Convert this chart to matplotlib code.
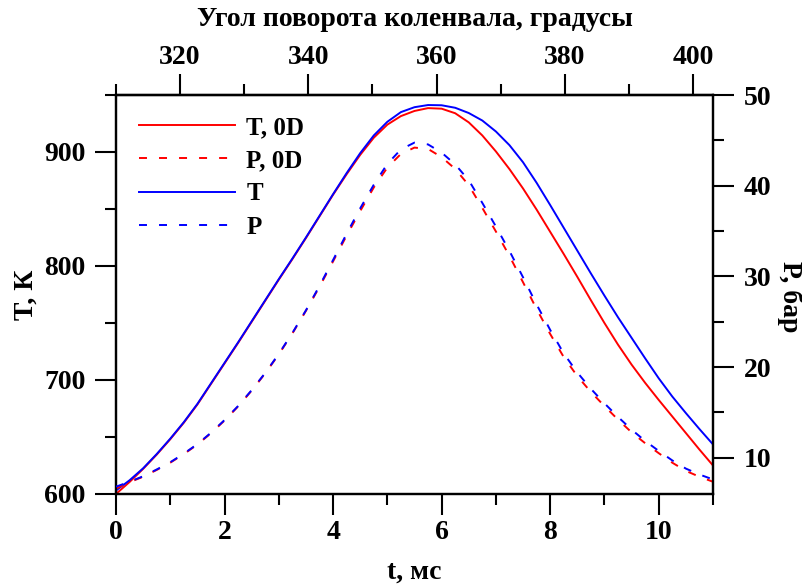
import matplotlib
matplotlib.use("Agg")
import matplotlib.pyplot as plt
from matplotlib.ticker import MultipleLocator, FixedLocator

plt.rcParams['font.family'] = ['Liberation Serif', 'DejaVu Serif']
plt.rcParams['font.weight'] = 'bold'
plt.rcParams['font.size'] = 20

# time, ms
t = [0, 0.25, 0.5, 0.75, 1, 1.25, 1.5, 1.75, 2, 2.25, 2.5, 2.75, 3, 3.25,
     3.5, 3.75, 4, 4.25, 4.5, 4.75, 5, 5.25, 5.5, 5.75, 6, 6.25, 6.5, 6.75,
     7, 7.25, 7.5, 7.75, 8, 8.25, 8.5, 8.75, 9, 9.25, 9.5, 9.75, 10, 10.25,
     10.5, 10.75, 11]

# temperature, K
T_0D = [600, 610.5, 622, 634.5, 648, 662.5, 678.5, 696.5, 714.5, 732.5, 751,
        769.5, 788, 806, 824.5, 843.5, 862.5, 880.5, 897.5, 912.5, 924, 931.5,
        936, 938.5, 938, 934, 926, 914.5, 900.5, 885, 868, 849.5, 830, 810.5,
        790.5, 770, 750, 731, 713.5, 697.5, 682.5, 668, 653.5, 639, 625]
T_3D = [603, 612, 622.5, 635, 648.5, 663, 679, 697, 715, 733, 751.5, 770,
        788.5, 806.5, 825, 844, 863, 881.5, 899, 914.5, 926.5, 935, 939.3,
        941.2, 941, 938.8, 934.2, 927.6, 918, 906, 891, 873, 853.5, 833.5,
        813.5, 793.5, 774, 755, 737, 719, 701.5, 685.5, 671, 657, 643.5]

# pressure, bar
P_0D = [6.6, 7.3, 7.9, 8.65, 9.45, 10.4, 11.45, 12.7, 14.1, 15.65, 17.4, 19.3,
        21.4, 23.7, 26.2, 28.85, 31.65, 34.5, 37.2, 39.8, 42.0, 43.5, 44.2,
        44.05, 43.15, 41.85, 40.05, 37.55, 34.95, 32.25, 29.35, 26.4, 23.65,
        21.1, 19.0, 17.25, 15.7, 14.2, 12.8, 11.6, 10.5, 9.45, 8.55, 7.9, 7.35]
P_3D = [6.8, 7.35, 7.95, 8.7, 9.5, 10.45, 11.5, 12.75, 14.15, 15.7, 17.45,
        19.35, 21.45, 23.75, 26.25, 28.95, 31.8, 34.7, 37.5, 40.1, 42.4, 44.0,
        44.75, 44.55, 43.65, 42.35, 40.6, 38.1, 35.5, 32.8, 29.9, 26.9, 24.1,
        21.5, 19.4, 17.6, 16.0, 14.5, 13.1, 11.85, 10.75, 9.7, 8.8, 8.15, 7.6]

labels = ['T, 0D', 'P, 0D', 'T', 'P']

# crank angle: degrees at t = 0 and degrees per ms
ANGLE0 = 310.0
DEG_PER_MS = 8.4636
angle_major = [320, 340, 360, 380, 400]
angle_minor = [310, 330, 350, 370, 390]

fig = plt.figure(figsize=(8.02, 5.85), dpi=100)
ax = fig.add_axes([0.1446, 0.1556, 0.7444, 0.682])
ax2 = ax.twinx()

lw = 1.4
dash = (0, (4.1, 6.2))
l1, = ax.plot(t, T_0D, color='#ff0000', lw=lw, zorder=2)
l2, = ax2.plot(t, P_0D, color='#ff0000', lw=lw, ls=dash, zorder=2)
l3, = ax.plot(t, T_3D, color='#0000ff', lw=lw, zorder=3)
l4, = ax2.plot(t, P_3D, color='#0000ff', lw=lw, ls=dash, zorder=3)

ax.set_xlim(0, 11)
ax.set_ylim(600, 950)
ax2.set_ylim(6, 50)

ax.xaxis.set_major_locator(MultipleLocator(2))
ax.xaxis.set_minor_locator(MultipleLocator(1))
ax.yaxis.set_major_locator(MultipleLocator(100))
ax.yaxis.set_minor_locator(MultipleLocator(50))
ax2.yaxis.set_major_locator(MultipleLocator(10))
ax2.yaxis.set_minor_locator(MultipleLocator(5))

top = ax.secondary_xaxis('top', functions=(lambda x: ANGLE0 + DEG_PER_MS * x,
                                            lambda a: (a - ANGLE0) / DEG_PER_MS))
top.xaxis.set_major_locator(FixedLocator(angle_major))
top.xaxis.set_minor_locator(FixedLocator(angle_minor))

for a in (ax, ax2, top):
    a.tick_params(which='major', direction='out', length=15, width=1.5,
                  labelsize=20)
    a.tick_params(which='minor', direction='out', length=8, width=1.5)
    for s in a.spines.values():
        s.set_linewidth(1.6)
ax.tick_params(axis='x', pad=4)
ax.tick_params(axis='y', pad=7)
ax2.tick_params(axis='y', pad=7)
top.tick_params(axis='x', pad=3)

ax.set_xlabel('t, мс', fontsize=20, fontweight='bold', va='center')
ax.xaxis.set_label_coords(0.5, -0.1955)
ax.set_ylabel('T, К', fontsize=20, fontweight='bold', va='center',
              ha='center', rotation=90)
ax.yaxis.set_label_coords(-0.151, 0.5)
ax2.set_ylabel('P, бар', fontsize=20, fontweight='bold', rotation=270,
               va='center', ha='center')
ax2.yaxis.set_label_coords(1.129, 0.495)
top.set_xlabel('Угол поворота коленвала, градусы', fontsize=20,
               fontweight='bold', va='center')
top.xaxis.set_label_coords(0.5, 1.188, transform=ax.transAxes)

ax.legend([l1, l2, l3, l4], labels, loc='upper left',
          bbox_to_anchor=(0.0385, 0.9475), frameon=False, borderpad=0,
          borderaxespad=0, handlelength=3.85, handletextpad=0.45,
          labelspacing=0.41, prop={'family': 'Liberation Serif',
                                    'weight': 'bold', 'size': 18})

fig.savefig('out.png', dpi=100)
